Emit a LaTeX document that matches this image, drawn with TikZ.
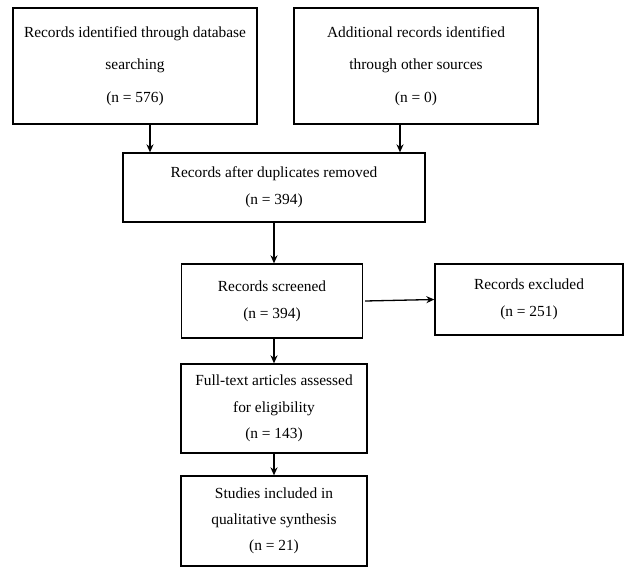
\documentclass[tikz,border=0pt]{standalone}
\usepackage{fontspec}
\setmainfont{Liberation Serif}
\usetikzlibrary{arrows.meta}
\begin{document}
\begin{tikzpicture}[x=1pt,y=-1pt,
  box/.style={draw,line width=1.3pt,rectangle,align=center,inner sep=0pt,font=\fontsize{15.4}{27}\selectfont},
  arr/.style={line width=1.3pt,-{Stealth[length=8pt,width=7pt]}}]
\useasboundingbox (0,0) rectangle (630,578);
\node[box,minimum width=244pt,minimum height=116pt,font=\fontsize{15.4}{32.5}\selectfont] (b1) at (135,66)
  {Records identified through database\\searching\\(n = 576)};
\node[box,minimum width=244pt,minimum height=116pt,font=\fontsize{15.4}{32.5}\selectfont] (b2) at (416,66)
  {Additional records identified\\through other sources\\(n = 0)};
\node[box,minimum width=302pt,minimum height=69pt] (b3) at (274,187.5)
  {Records after duplicates removed\\(n = 394)};
\node[box,minimum width=181pt,minimum height=74pt] (b4) at (272,301)
  {Records screened\\(n = 394)};
\node[box,minimum width=188pt,minimum height=71pt] (b5) at (529,299.5)
  {Records excluded\\(n = 251)};
\node[box,minimum width=186pt,minimum height=89pt,font=\fontsize{15.4}{26.5}\selectfont] (b6) at (274,408.5)
  {Full-text articles assessed\\for eligibility\\(n = 143)};
\node[box,minimum width=186pt,minimum height=90pt,font=\fontsize{15.4}{26}\selectfont] (b7) at (274,521)
  {Studies included in\\qualitative synthesis\\(n = 21)};
\draw[arr] ([xshift=15pt]b1.south) -- ([xshift=15pt]b1.south |- b3.north);
\draw[arr] ([xshift=-16pt]b2.south) -- ([xshift=-16pt]b2.south |- b3.north);
\draw[arr] (b3.south) -- (b3.south |- b4.north);
\draw[arr] ([xshift=2pt]b4.east) -- (b5.west);
\draw[arr] (b4.south -| b3.south) -- (b3.south |- b6.north);
\draw[arr] (b6.south) -- (b7.north);
\end{tikzpicture}
\end{document}
